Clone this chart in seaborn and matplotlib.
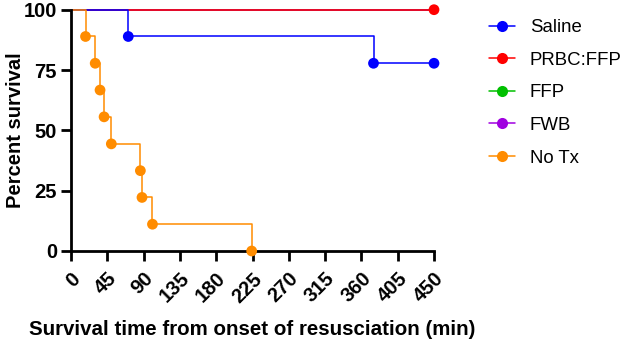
import numpy as np
import pandas as pd
import matplotlib
matplotlib.use('Agg')
import matplotlib.pyplot as plt
import seaborn as sns
from matplotlib.lines import Line2D

# Kaplan-Meier style survival data (time in min, percent survival)
groups = ['Saline', 'PRBC:FFP', 'FFP', 'FWB', 'No Tx']
colors = ['#0000FF', '#FF0000', '#00C000', '#A000E0', '#FF8C00']

saline_t = [0, 71, 375, 450]
saline_s = [100, 88.9, 77.8, 77.8]
prbc_t = [0, 450]
prbc_s = [100, 100]
ffp_t = [0, 450]
ffp_s = [100, 100]
fwb_t = [0, 450]
fwb_s = [100, 100]
notx_t = [0, 18, 30, 36, 41, 50, 86, 88, 101, 224]
notx_s = [100, 88.9, 77.8, 66.7, 55.6, 44.4, 33.3, 22.2, 11.1, 0]

# event markers (deaths / end of follow-up)
saline_pts_t = [71, 375, 450]
saline_pts_s = [88.9, 77.8, 77.8]
prbc_pts_t = [450]
prbc_pts_s = [100]
notx_pts_t = notx_t[1:]
notx_pts_s = notx_s[1:]

x_ticks = list(range(0, 451, 45))
y_ticks = [0, 25, 50, 75, 100]

sns.set_style('ticks')
plt.rcParams['font.family'] = ['Liberation Sans', 'DejaVu Sans']
plt.rcParams['text.color'] = 'black'
plt.rcParams['axes.labelcolor'] = 'black'
plt.rcParams['xtick.color'] = 'black'
plt.rcParams['ytick.color'] = 'black'

fig = plt.figure(figsize=(6.29, 3.44), dpi=100)
ax = fig.add_axes([71 / 629, 1 - 251 / 344, (434 - 71) / 629, (251 - 9.7) / 344])

curves = {
    'FFP': (ffp_t, ffp_s),
    'FWB': (fwb_t, fwb_s),
    'PRBC:FFP': (prbc_t, prbc_s),
    'Saline': (saline_t, saline_s),
    'No Tx': (notx_t, notx_s),
}
col = dict(zip(groups, colors))

for name, (t, s) in curves.items():
    df = pd.DataFrame({'time': t, 'survival': s})
    sns.lineplot(data=df, x='time', y='survival', ax=ax, color=col[name],
                 drawstyle='steps-post', linewidth=1.1, estimator=None,
                 clip_on=False)

pts = {
    'PRBC:FFP': (prbc_pts_t, prbc_pts_s),
    'Saline': (saline_pts_t, saline_pts_s),
    'No Tx': (notx_pts_t, notx_pts_s),
}
for name, (t, s) in pts.items():
    df = pd.DataFrame({'time': t, 'survival': s})
    sns.scatterplot(data=df, x='time', y='survival', ax=ax, color=col[name],
                    s=60, edgecolor='none', clip_on=False, zorder=5)

ax.set_xlim(0, 450)
ax.set_ylim(0, 100)
ax.set_xticks(x_ticks)
ax.set_yticks(y_ticks)
ax.set_xticklabels([str(v) for v in x_ticks], rotation=45, ha='right',
                   rotation_mode='anchor', fontweight='bold', fontsize=14.5)
ax.set_yticklabels([str(v) for v in y_ticks], fontweight='bold', fontsize=14.5)
ax.tick_params(axis='both', width=2, length=7, color='black', labelcolor='black', pad=3)
ax.tick_params(axis='x', pad=6)
for side in ['left', 'bottom']:
    ax.spines[side].set_linewidth(2)
    ax.spines[side].set_color('black')
sns.despine(ax=ax)

ax.set_xlabel('Survival time from onset of resusciation (min)', fontsize=14.8,
              fontweight='bold', labelpad=10, color='black')
ax.set_ylabel('Percent survival', fontsize=14.5, fontweight='bold', color='black')
ax.yaxis.set_label_coords(-0.128, 0.5)

handles = [Line2D([0], [0], color=c, lw=1.1, marker='o', markersize=8,
                  markeredgecolor='none') for c in colors]
leg = fig.legend(handles, groups, loc='upper left', bbox_to_anchor=(489 / 629, 1 - 19 / 344),
                 frameon=False, fontsize=13.4, handlelength=1.4, handletextpad=0.8,
                 labelspacing=0.84, borderpad=0, borderaxespad=0)
for txt in leg.get_texts():
    txt.set_color('black')

fig.savefig('out.png', dpi=100)
